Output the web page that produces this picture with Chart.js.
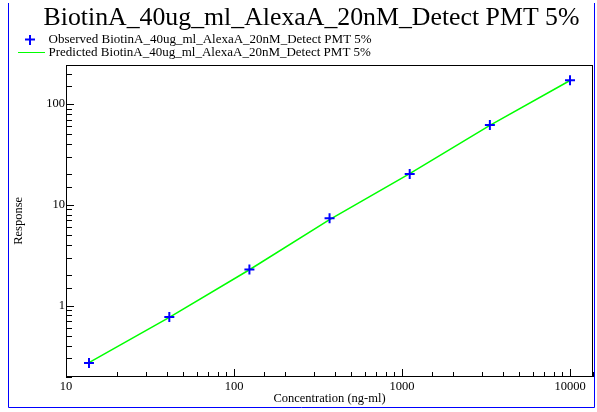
<!DOCTYPE html>
<html>
<head>
<meta charset="utf-8">
<script src="https://cdn.jsdelivr.net/npm/chart.js@4/dist/chart.umd.min.js"></script>
<style>
  body { margin: 0; background: #fff; }
  canvas { display: block; }
</style>
</head>
<body>
<canvas id="graph" width="597" height="412"></canvas>
<script>
// values
const concentrations = [13.7, 41.2, 123.5, 370.4, 1111.1, 3333.3, 10000];
const observed = [0.27, 0.77, 2.28, 7.35, 20.2, 62, 172];
const predicted = [0.272, 0.765, 2.27, 7.15, 20.4, 61.5, 171];
const xTickLabels = [10, 100, 1000, 10000];
const yTickLabels = [1, 10, 100];

const serif = "'Liberation Serif', 'Times New Roman', serif";

function isIn(list, v) {
    return list.some(l => Math.abs(l - v) < l * 1e-6);
}

// little icons for the legend
const crossIcon = document.createElement('canvas');
crossIcon.width = 10; crossIcon.height = 10;
let c = crossIcon.getContext('2d');
c.fillStyle = '#0000ff';
c.fillRect(4, 0, 2, 10);
c.fillRect(0, 4, 10, 2);

const lineIcon = document.createElement('canvas');
lineIcon.width = 30; lineIcon.height = 1;
c = lineIcon.getContext('2d');
c.fillStyle = '#00ff00';
c.fillRect(0, 0, 30, 1);

const frame = {
    id: 'frame',
    afterLayout(chart) {
        chart.titleBlock.left = 30;
        chart.legend.left = 18;
        chart.legend.top = 33;
    },
    beforeDraw(chart) {
        const ctx = chart.ctx;
        ctx.save();
        ctx.fillStyle = '#fff';
        ctx.fillRect(0, 0, chart.width, chart.height);
        ctx.strokeStyle = '#0000ff';
        ctx.lineWidth = 1;
        ctx.beginPath();
        ctx.moveTo(8.5, 3);
        ctx.lineTo(8.5, 407.5);
        ctx.lineTo(594.5, 407.5);
        ctx.lineTo(594.5, 3);
        ctx.stroke();
        ctx.restore();
    },
    afterDraw(chart) {
        const ctx = chart.ctx, a = chart.chartArea;
        const xs = chart.scales.x, ys = chart.scales.y;
        ctx.save();
        ctx.strokeStyle = '#000';
        ctx.lineWidth = 1;
        ctx.strokeRect(Math.round(a.left) + 0.5, Math.round(a.top) + 0.5,
            Math.round(a.right - a.left) - 1, Math.round(a.bottom - a.top) - 1);
        ctx.beginPath();
        xs.ticks.forEach(t => {
            if (t.value < xs.min || t.value > xs.max) return;
            const px = Math.round(xs.getPixelForValue(t.value)) + 0.5;
            const len = isIn(xTickLabels, t.value) ? 8 : 5;
            ctx.moveTo(px, a.bottom);
            ctx.lineTo(px, a.bottom - len);
        });
        ys.ticks.forEach(t => {
            if (t.value < ys.min || t.value > ys.max) return;
            const py = Math.round(ys.getPixelForValue(t.value)) + 0.5;
            const len = isIn(yTickLabels, t.value) ? 8 : 6;
            ctx.moveTo(a.left, py);
            ctx.lineTo(a.left + len, py);
        });
        ctx.stroke();
        ctx.restore();
    }
};

Chart.defaults.color = '#000';
Chart.defaults.font.family = serif;

const graph = document.getElementById('graph').getContext('2d');

let myChart = new Chart(graph, {
    type: 'scatter',
    data: {
        datasets: [
            {
                label: 'Observed BiotinA_40ug_ml_AlexaA_20nM_Detect PMT 5%',
                data: concentrations.map((x, i) => ({x: x, y: observed[i]})),
                pointStyle: 'cross',
                pointRadius: 5,
                pointBorderWidth: 2,
                borderColor: '#0000ff',
                backgroundColor: '#0000ff',
                showLine: false
            },
            {
                label: 'Predicted BiotinA_40ug_ml_AlexaA_20nM_Detect PMT 5%',
                data: concentrations.map((x, i) => ({x: x, y: predicted[i]})),
                pointRadius: 0,
                borderColor: '#00ff00',
                backgroundColor: '#00ff00',
                borderWidth: 1.5,
                showLine: true,
                tension: 0
            }
        ]
    },
    options: {
        responsive: false,
        animation: false,
        layout: {
            autoPadding: false,
            padding: {top: 0, left: 8, right: 4, bottom: 4}
        },
        plugins: {
            title: {
                display: true,
                text: 'BiotinA_40ug_ml_AlexaA_20nM_Detect PMT 5%',
                font: {size: 25.8, weight: 'normal', lineHeight: 1.1},
                padding: {top: 4.4, bottom: 0}
            },
            legend: {
                display: true,
                align: 'start',
                maxHeight: 32,
                labels: {
                    usePointStyle: true,
                    pointStyleWidth: 24,
                    padding: 0,
                    font: {size: 13},
                    generateLabels(chart) {
                        const items = Chart.defaults.plugins.legend.labels.generateLabels(chart);
                        items[0].pointStyle = crossIcon;
                        items[1].pointStyle = lineIcon;
                        return items;
                    }
                }
            },
            tooltip: {enabled: false}
        },
        scales: {
            x: {
                type: 'logarithmic',
                min: 10,
                max: 13700,
                afterFit(s) { s.height = 31; },
                grid: {display: false, drawTicks: false},
                border: {display: false},
                ticks: {
                    autoSkip: false,
                    maxRotation: 0,
                    minRotation: 0,
                    padding: 2,
                    font: {size: 12.5},
                    callback: v => isIn(xTickLabels, v) ? String(v) : ''
                },
                title: {
                    display: true,
                    text: 'Concentration (ng-ml)',
                    font: {size: 12.5},
                    padding: {top: 0, bottom: 2}
                }
            },
            y: {
                type: 'logarithmic',
                min: 0.196,
                max: 245,
                afterFit(s) { s.width = 58; },
                grid: {display: false, drawTicks: false},
                border: {display: false},
                ticks: {
                    autoSkip: false,
                    padding: 1,
                    font: {size: 12.5},
                    callback: v => isIn(yTickLabels, v) ? String(v) : ''
                },
                title: {
                    display: true,
                    text: 'Response',
                    font: {size: 12.5},
                    padding: {top: 3, bottom: 0}
                }
            }
        }
    },
    plugins: [frame]
});
</script>
</body>
</html>
